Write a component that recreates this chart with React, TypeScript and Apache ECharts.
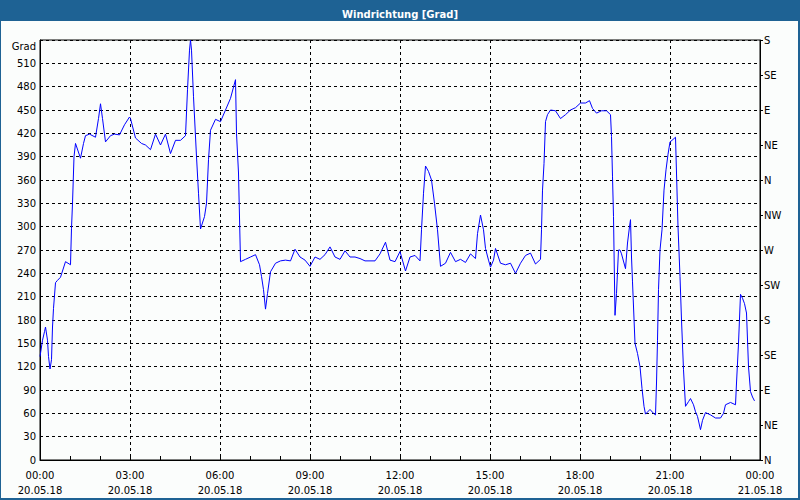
import React, { useEffect, useRef } from "react";
import * as echarts from "echarts";

// time in minutes after 20.05.18 00:00
const times: number[] = [
  0, 5, 9, 11, 15, 17, 20, 23, 25, 27, 31, 35, 41, 51, 61, 63, 65, 68, 71, 81,
  87, 91, 99, 111, 117, 121, 125, 131, 141, 149, 159, 169, 179, 181, 191, 203, 211, 221, 231, 241,
  251, 261, 271, 281, 291, 295, 299, 301, 303, 307, 313, 317, 321, 329, 333, 337, 341, 351, 361, 371,
  381, 391, 393, 397, 401, 411, 421, 431, 439, 443, 447, 451, 455, 461, 471, 481, 491, 501, 510, 520,
  530, 540, 550, 560, 570, 580, 590, 600, 610, 620, 630, 640, 650, 660, 670, 680, 691, 700, 710, 720,
  731, 740, 750, 760, 763, 767, 771, 777, 783, 789, 795, 801, 811, 821, 831, 841, 851, 861, 871, 875,
  881, 887, 891, 897, 901, 907, 911, 921, 931, 941, 951, 961, 971, 981, 991, 1001, 1003, 1005, 1008, 1011,
  1015, 1021, 1031, 1041, 1051, 1061, 1071, 1081, 1091, 1099, 1105, 1113, 1123, 1133, 1141, 1143, 1145, 1147, 1150, 1153,
  1157, 1160, 1163, 1171, 1175, 1179, 1181, 1183, 1185, 1190, 1195, 1200, 1204, 1208, 1211, 1220, 1227, 1231, 1233, 1235,
  1237, 1240, 1244, 1248, 1252, 1256, 1260, 1264, 1271, 1273, 1276, 1280, 1283, 1287, 1291, 1297, 1301, 1307, 1311, 1315,
  1321, 1325, 1331, 1341, 1351, 1361, 1367, 1371, 1381, 1391, 1393, 1397, 1401, 1405, 1409, 1413, 1417, 1421, 1425, 1429,
];

const values: number[] = [
  133, 154, 165, 171, 154, 133, 117, 129, 171, 195, 228, 231, 235, 255, 251, 298, 330, 390, 407, 388,
  407, 417, 419, 415, 439, 458, 439, 409, 417, 419, 418, 431, 441, 439, 414, 407, 405, 399, 419, 405,
  419, 394, 411, 411, 417, 476, 527, 540, 527, 467, 390, 343, 297, 313, 330, 386, 424, 438, 435, 450,
  465, 489, 420, 369, 255, 258, 261, 264, 251, 236, 219, 194, 214, 242, 253, 256, 257, 256, 271, 261,
  257, 249, 261, 258, 264, 274, 261, 258, 269, 261, 261, 259, 256, 256, 256, 265, 280, 257, 255, 268,
  243, 261, 263, 256, 296, 343, 378, 371, 360, 330, 296, 249, 253, 267, 255, 258, 254, 265, 259, 291,
  315, 296, 272, 257, 248, 257, 272, 253, 251, 253, 240, 253, 263, 266, 252, 258, 296, 347, 381, 435,
  444, 450, 449, 439, 444, 450, 453, 459, 459, 462, 452, 446, 449, 449, 444, 416, 364, 313, 186, 214,
  270, 270, 265, 246, 279, 300, 309, 261, 229, 150, 137, 120, 92, 69, 59, 65, 60, 58, 99, 154,
  219, 270, 296, 347, 373, 393, 409, 411, 415, 369, 300, 236, 180, 116, 69, 75, 79, 71, 62, 56,
  39, 51, 61, 58, 54, 54, 60, 71, 74, 71, 99, 150, 213, 208, 201, 189, 120, 88, 81, 76,
];

const compassLabels: string[] = ["N", "NE", "E", "SE", "S", "SW", "W", "NW", "N", "NE", "E", "SE", "S"];
const dayLabels: string[] = ["20.05.18", "21.05.18"];
const titleText = "Windrichtung [Grad]";
const unitText = "Grad";

const FONT = "DejaVu Sans";

export default function App() {
  const ref = useRef<HTMLDivElement>(null);
  useEffect(() => {
    document.body.style.margin = "0";
    const chart = echarts.init(ref.current!, null, { renderer: "svg" });
    const data = times.map((t, i) => [t, values[i]]);
    const fmtTime = (v: number) => {
      const h = Math.floor(v / 60) % 24;
      const m = Math.round(v % 60);
      const day = v >= 1440 ? dayLabels[1] : dayLabels[0];
      return `${String(h).padStart(2, "0")}:${String(m).padStart(2, "0")}\n${day}`;
    };
    chart.setOption({
      animation: false,
      backgroundColor: "#1e6294",
      title: {
        text: titleText,
        left: "center",
        top: 4,
        textStyle: { color: "#ffffff", fontSize: 10, fontWeight: "bold", fontFamily: FONT },
      },
      graphic: [
        {
          type: "rect",
          shape: { x: 1, y: 21, width: 797, height: 477 },
          style: { fill: "#fbfdfc" },
          z: -10,
          silent: true,
        },
        {
          type: "text",
          x: 36,
          y: 46,
          style: {
            text: unitText,
            fill: "#000",
            font: `10px "${FONT}"`,
            align: "right",
            verticalAlign: "middle",
          },
        },
      ],
      grid: {
        left: 40,
        right: 40,
        top: 40,
        height: 420,
        show: true,
        borderColor: "#000",
        borderWidth: 1,
        backgroundColor: "transparent",
      },
      xAxis: {
        type: "value",
        min: 0,
        max: 1440,
        interval: 180,
        axisLine: { show: true, lineStyle: { color: "#000", width: 1 } },
        axisTick: { show: true, inside: true, length: 4, lineStyle: { color: "#000" } },
        minorTick: { show: true, splitNumber: 3, length: 4, lineStyle: { color: "#000" } },
        splitLine: { show: true, lineStyle: { color: "#000", type: [3, 3], width: 1 } },
        axisLabel: {
          color: "#000",
          fontFamily: FONT,
          fontSize: 10,
          margin: 8,
          lineHeight: 15,
          formatter: (v: number) => fmtTime(v),
        },
      },
      yAxis: [
        {
          type: "value",
          min: 0,
          max: 540,
          interval: 30,
          position: "left",
          axisLine: { show: true, lineStyle: { color: "#000", width: 1 } },
          axisTick: { show: false },
          splitLine: { show: true, lineStyle: { color: "#000", type: [3, 3], width: 1 } },
          axisLabel: {
            color: "#000",
            fontFamily: FONT,
            fontSize: 10,
            margin: 4,
            formatter: (v: number) => (v >= 540 ? "" : String(v)),
          },
        },
        {
          type: "value",
          min: 0,
          max: 540,
          interval: 45,
          position: "right",
          axisLine: { show: true, lineStyle: { color: "#000", width: 1 } },
          axisTick: { show: true, inside: false, length: 3, lineStyle: { color: "#000" } },
          splitLine: { show: false },
          axisLabel: {
            color: "#000",
            fontFamily: FONT,
            fontSize: 10,
            margin: 4,
            formatter: (v: number) => compassLabels[Math.round(v / 45)] ?? "",
          },
        },
      ],
      series: [
        {
          type: "line",
          data,
          yAxisIndex: 0,
          showSymbol: false,
          symbol: "none",
          lineStyle: { color: "#0000ff", width: 1 },
          clip: true,
        },
      ],
    });
    return () => chart.dispose();
  }, []);
  return <div ref={ref} style={{ width: 800, height: 500 }} />;
}
